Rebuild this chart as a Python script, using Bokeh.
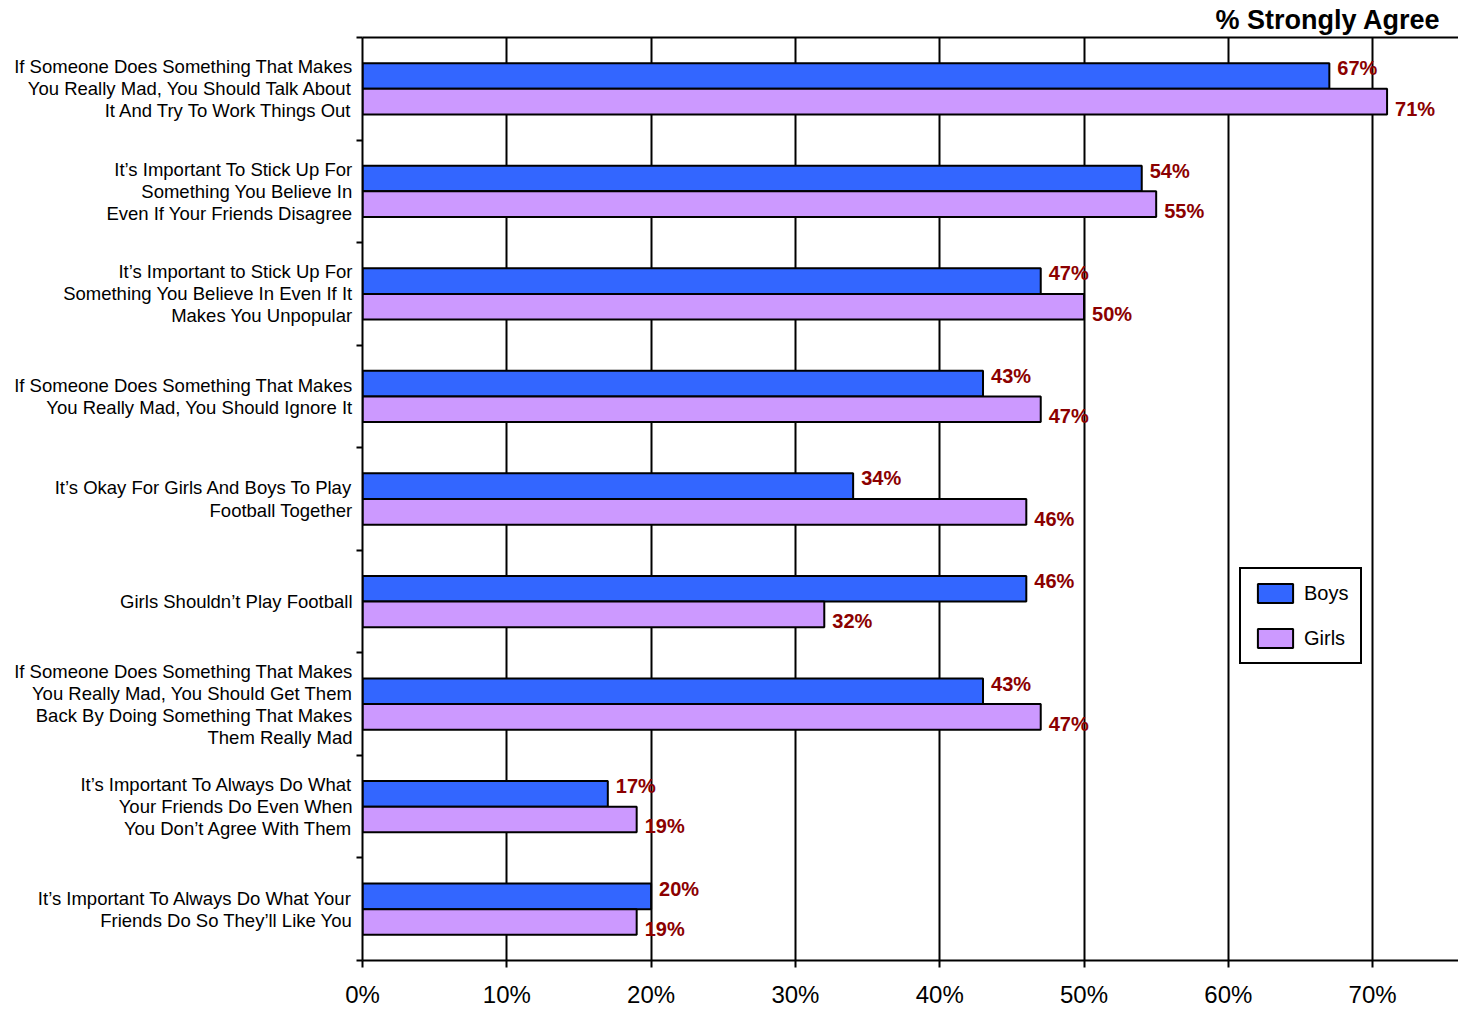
from bokeh.plotting import figure
from bokeh.models import ColumnDataSource, FixedTicker, LinearAxis, Range1d
from bokeh.embed import file_html
from bokeh.resources import INLINE
from bokeh.core.properties import value

categories = [
    "If Someone Does Something That Makes\nYou Really Mad, You Should Talk About\nIt And Try To Work Things Out",
    "It\u2019s Important To Stick Up For\nSomething You Believe In\nEven If Your Friends Disagree",
    "It\u2019s Important to Stick Up For\nSomething You Believe In Even If It\nMakes You Unpopular",
    "If Someone Does Something That Makes\nYou Really Mad, You Should Ignore It",
    "It\u2019s Okay For Girls And Boys To Play\nFootball Together",
    "Girls Shouldn\u2019t Play Football",
    "If Someone Does Something That Makes\nYou Really Mad, You Should Get Them\nBack By Doing Something That Makes\nThem Really Mad",
    "It\u2019s Important To Always Do What\nYour Friends Do Even When\nYou Don\u2019t Agree With Them",
    "It\u2019s Important To Always Do What Your\nFriends Do So They\u2019ll Like You",
]
boys = [67, 54, 47, 43, 34, 46, 43, 17, 20]
girls = [71, 55, 50, 47, 46, 32, 47, 19, 19]
x_ticks = [0, 10, 20, 30, 40, 50, 60, 70]
x_tick_labels = ["0%", "10%", "20%", "30%", "40%", "50%", "60%", "70%"]
series_names = ["Boys", "Girls"]
title_text = "% Strongly Agree"

FONT = "Liberation Sans"
BOYS_COLOR = "#3366FF"
GIRLS_COLOR = "#CC99FF"
LABEL_COLOR = "#8B0000"

n = len(categories)
centers = [n - 0.5 - i for i in range(n)]
bar_h = 0.25

boys_src = ColumnDataSource(dict(
    y=[c + 0.125 for c in centers], v=boys,
    ly=[c + 0.125 + 0.075 for c in centers],
    t=[f"{v}%" for v in boys]))
girls_src = ColumnDataSource(dict(
    y=[c - 0.125 for c in centers], v=girls,
    ly=[c - 0.125 - 0.068 for c in centers],
    t=[f"{v}%" for v in girls]))

p = figure(width=1458, height=1010, output_backend="svg", toolbar_location=None,
           x_range=Range1d(0, 75.95), y_range=Range1d(0, n),
           min_border_left=362, min_border_right=0, min_border_top=37, min_border_bottom=50,
           outline_line_color=None, background_fill_color="white", border_fill_color="white",
           title=title_text)

p.title.align = "right"
p.title.text_font = FONT
p.title.text_font_size = "27px"
p.title.text_font_style = "bold"
p.title.text_color = "black"
p.title.offset = 18
p.title.standoff = 5

p.hbar(y="y", right="v", left=0, height=bar_h, source=boys_src,
       fill_color=BOYS_COLOR, line_color="black", line_width=2, legend_label=series_names[0])
p.hbar(y="y", right="v", left=0, height=bar_h, source=girls_src,
       fill_color=GIRLS_COLOR, line_color="black", line_width=2, legend_label=series_names[1])

for src in (boys_src, girls_src):
    p.text(x="v", y="ly", text="t", source=src, x_offset=8, text_baseline="middle",
           text_align="left", text_color=LABEL_COLOR, text_font=value(FONT),
           text_font_style="bold", text_font_size="20px")

# x axis
xa = p.xaxis[0]
xa.ticker = FixedTicker(ticks=x_ticks)
xa.major_label_overrides = {t: l for t, l in zip(x_ticks, x_tick_labels)}
xa.major_label_text_font = FONT
xa.major_label_text_font_size = "24px"
xa.major_label_text_color = "black"
xa.major_label_standoff = 13
xa.major_tick_out = 7
xa.major_tick_in = 0
xa.minor_tick_line_color = None
xa.axis_line_width = 2
xa.axis_line_color = "black"
xa.major_tick_line_color = "black"
xa.major_tick_line_width = 2

# y axis: category labels at group centres, tick marks at group boundaries
ya = p.yaxis[0]
ya.ticker = FixedTicker(ticks=centers, minor_ticks=list(range(n + 1)))
ya.major_label_overrides = {c: t for c, t in zip(centers, categories)}
ya.major_label_text_font = FONT
ya.major_label_text_font_size = "18.5px"
ya.major_label_text_color = "black"
ya.major_label_text_align = "right"
ya.major_label_text_line_height = 1.05
ya.major_label_standoff = 4
ya.major_tick_out = 0
ya.major_tick_in = 0
ya.major_tick_line_color = None
ya.minor_tick_out = 6
ya.minor_tick_in = 0
ya.minor_tick_line_color = "black"
ya.minor_tick_line_width = 2
ya.axis_line_width = 2
ya.axis_line_color = "black"

# top border line
top_axis = LinearAxis(major_tick_line_color=None, minor_tick_line_color=None,
                      axis_line_width=2, axis_line_color="black",
                      ticker=FixedTicker(ticks=[]))
p.add_layout(top_axis, "above")

p.xgrid.ticker = FixedTicker(ticks=x_ticks)
p.xgrid.grid_line_color = "black"
p.xgrid.grid_line_width = 2
p.ygrid.visible = False

lg = p.legend[0]
lg.location = (877, 296)
lg.label_text_font = FONT
lg.label_text_font_size = "20px"
lg.label_text_color = "black"
lg.glyph_width = 44
lg.glyph_height = 24
lg.label_height = 24
lg.spacing = 21
lg.padding = 12
lg.margin = 0
lg.label_standoff = 7
lg.border_line_color = "black"
lg.border_line_alpha = 1
lg.border_line_width = 2
lg.background_fill_color = "white"
lg.background_fill_alpha = 1

open("out.html", "w").write(file_html(p, INLINE))
